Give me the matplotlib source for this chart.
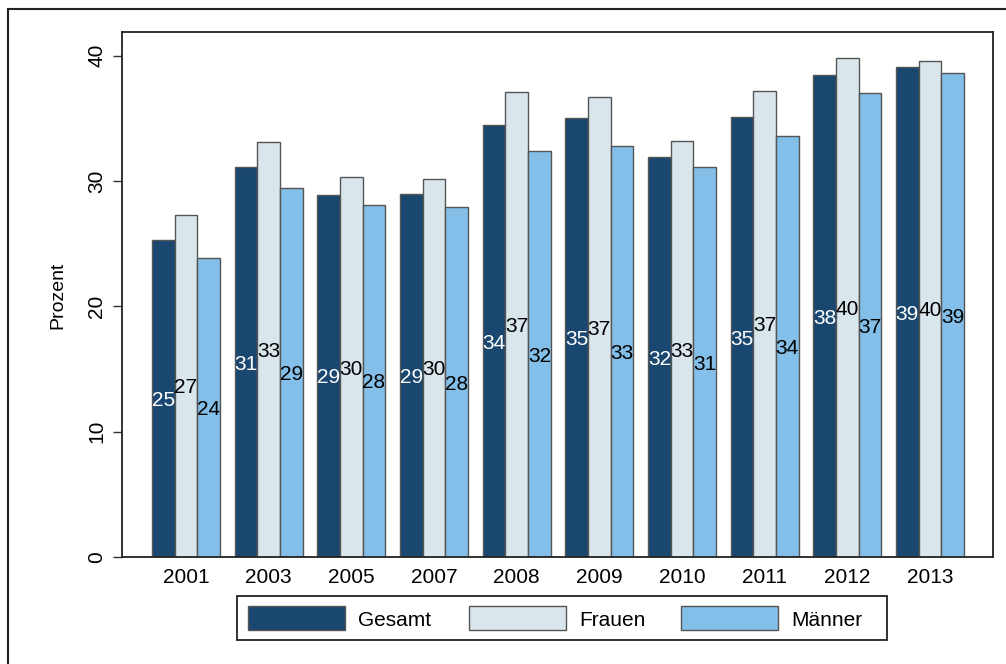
import matplotlib
matplotlib.use("Agg")
import matplotlib.pyplot as plt
import numpy as np
from matplotlib.patches import Rectangle
from matplotlib.lines import Line2D

# Survey shares in percent, by year and group
years = ["2001", "2003", "2005", "2007", "2008", "2009", "2010", "2011", "2012", "2013"]
gesamt = [25.3, 31.1, 28.9, 29.0, 34.45, 35.0, 31.9, 35.1, 38.45, 39.1]
frauen = [27.3, 33.1, 30.3, 30.2, 37.1, 36.7, 33.2, 37.2, 39.8, 39.6]
maenner = [23.9, 29.45, 28.1, 27.9, 32.4, 32.8, 31.1, 33.6, 37.0, 38.6]
series_names = ["Gesamt", "Frauen", "Männer"]
y_ticks = [0, 10, 20, 30, 40]
y_title = "Prozent"

colors = ["#1a476f", "#d9e6ec", "#83bfe8"]
label_colors = ["white", "black", "black"]
edge = "#555555"

plt.rcParams["font.family"] = ["Liberation Sans", "DejaVu Sans"]
FS = 15

W, H = 1006, 664
fig = plt.figure(figsize=(W / 100, H / 100), dpi=100)


def fx(px):
    return px / W


def fy(py):
    return 1 - py / H


# Outer frame (left and top edges visible)
fig.add_artist(Line2D([fx(8), fx(8)], [fy(9), fy(H + 5)], transform=fig.transFigure,
                      color="#222222", lw=1.5))
fig.add_artist(Line2D([fx(8), fx(W + 5)], [fy(9), fy(9)], transform=fig.transFigure,
                      color="#222222", lw=1.5))

ax = fig.add_axes([fx(122), fy(557), (993 - 122) / W, (557 - 32) / H])

x = np.arange(len(years))
bw = 0.274
for i, (vals, c, lc) in enumerate(zip([gesamt, frauen, maenner], colors, label_colors)):
    pos = x + (i - 1) * bw
    ax.bar(pos, vals, bw, color=c, edgecolor=edge, linewidth=1.0, zorder=2)
    for p, v in zip(pos, vals):
        ax.text(p, v / 2, f"{v:.0f}", ha="center", va="center_baseline",
                color=lc, fontsize=FS, zorder=3)

ax.set_xlim(-0.774, 9.762)
ax.set_ylim(0, 41.9)
ax.set_xticks(x)
ax.set_xticklabels(years, fontsize=FS)
ax.set_yticks(y_ticks)
ax.set_yticklabels([str(t) for t in y_ticks], fontsize=FS, rotation=90, va="center")
ax.tick_params(axis="x", length=0, pad=8)
ax.tick_params(axis="y", length=6.5, width=1.0, pad=5, color="#333333")

for s in ax.spines.values():
    s.set_color("#222222")
    s.set_linewidth(1.3)

fig.text(fx(58), fy(295), y_title, rotation=90, ha="center", va="center", fontsize=FS - 1)

# Legend box below the plot
fig.add_artist(Rectangle((fx(237), fy(640)), fx(887) - fx(237), fy(596) - fy(640),
                         transform=fig.transFigure, facecolor="white",
                         edgecolor="#222222", lw=1.3))
patch_x = [248, 469, 681]
for px, name, c in zip(patch_x, series_names, colors):
    fig.add_artist(Rectangle((fx(px), fy(630)), fx(97), fy(606) - fy(630),
                             transform=fig.transFigure, facecolor=c,
                             edgecolor=edge, lw=1.0))
    fig.text(fx(px + 110), fy(618), name, ha="left", va="center_baseline", fontsize=FS)

fig.savefig("out.png", dpi=100)
